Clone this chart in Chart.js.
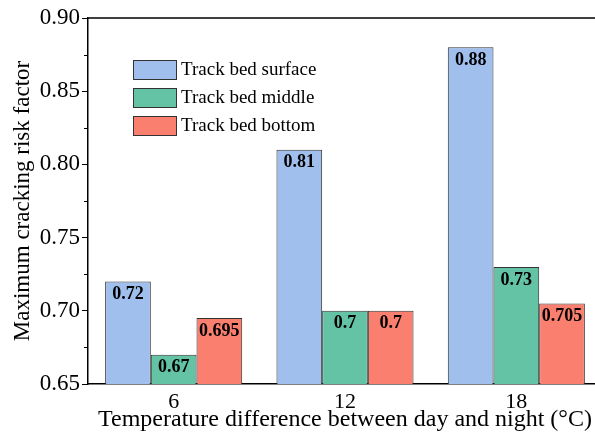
<!DOCTYPE html>
<html>
<head>
<meta charset="utf-8">
<script src="https://cdn.jsdelivr.net/npm/chart.js@4"></script>
<style>
  body { margin: 0; overflow: hidden; background: #fff; }
  #wrap { width: 605px; height: 435px; }
</style>
</head>
<body>
<div id="wrap"><canvas id="chart" width="605" height="435"></canvas></div>
<script>
const categories = ['6', '12', '18'];
const seriesNames = ['Track bed surface', 'Track bed middle', 'Track bed bottom'];
const surface = [0.72, 0.81, 0.88];
const middle = [0.67, 0.70, 0.73];
const bottom = [0.695, 0.70, 0.705];
const colors = ['#a0bfed', '#64c3a4', '#fb7f6f'];
const yMin = 0.65, yMax = 0.90, yStep = 0.05;

const serif = '"Liberation Serif", "DejaVu Serif", serif';

// value labels inside the top of each bar
const valueLabels = {
    id: 'valueLabels',
    afterDatasetsDraw(chart) {
        const ctx = chart.ctx;
        ctx.save();
        ctx.font = 'bold 18px ' + serif;
        ctx.fillStyle = '#000';
        ctx.textAlign = 'center';
        ctx.textBaseline = 'top';
        chart.data.datasets.forEach((ds, i) => {
            chart.getDatasetMeta(i).data.forEach((bar, j) => {
                ctx.fillText(String(ds.data[j]), bar.x, bar.y + 4);
            });
        });
        ctx.restore();
    }
};

// frame top line, minor y ticks, legend inside plot
const extras = {
    id: 'extras',
    afterDraw(chart) {
        const ctx = chart.ctx;
        const area = chart.chartArea;
        const y = chart.scales.y;
        ctx.save();
        ctx.strokeStyle = '#000';
        ctx.lineWidth = 1.5;
        ctx.beginPath();
        ctx.moveTo(area.left, area.top);
        ctx.lineTo(area.right, area.top);
        ctx.lineTo(area.right, area.bottom);
        ctx.stroke();

        ctx.lineWidth = 1;
        for (let v = yMin + yStep / 2; v < yMax; v += yStep) {
            const py = Math.round(y.getPixelForValue(v)) + 0.5;
            ctx.beginPath();
            ctx.moveTo(area.left - 4, py);
            ctx.lineTo(area.left, py);
            ctx.stroke();
        }

        ctx.font = '19px ' + serif;
        ctx.textBaseline = 'middle';
        ctx.textAlign = 'left';
        chart.data.datasets.forEach((ds, i) => {
            const top = 60 + i * 28;
            ctx.fillStyle = ds.backgroundColor;
            ctx.fillRect(133.5, top + 0.5, 43, 19);
            ctx.strokeStyle = '#333';
            ctx.strokeRect(133.5, top + 0.5, 43, 19);
            ctx.fillStyle = '#000';
            ctx.fillText(ds.label, 181, top + 10);
        });
        ctx.restore();
    }
};

const datasets = [surface, middle, bottom].map((vals, i) => ({
    label: seriesNames[i],
    data: vals,
    backgroundColor: colors[i],
    borderColor: '#333',
    borderWidth: 1,
    borderSkipped: false,
    categoryPercentage: 0.8,
    barPercentage: 1.0
}));

new Chart(document.getElementById('chart'), {
    type: 'bar',
    data: { labels: categories, datasets: datasets },
    options: {
        responsive: false,
        animation: false,
        layout: { padding: { top: 18, right: 3, left: 0, bottom: 0 } },
        plugins: {
            legend: { display: false },
            tooltip: { enabled: false }
        },
        scales: {
            x: {
                grid: { display: false, drawTicks: false },
                border: { display: true, color: '#000', width: 1.5 },
                ticks: { color: '#000', font: { family: serif, size: 22 }, padding: 5 },
                title: {
                    display: true,
                    text: 'Temperature difference between day and night (°C)',
                    color: '#000',
                    font: { family: serif, size: 24 },
                    padding: { top: 0, bottom: 1 }
                },
                afterFit(scale) { scale.height = 51; }
            },
            y: {
                min: yMin,
                max: yMax,
                ticks: {
                    stepSize: yStep,
                    color: '#000',
                    font: { family: serif, size: 23 },
                    padding: 2,
                    callback: v => Number(v).toFixed(2)
                },
                grid: { drawOnChartArea: false, drawTicks: true, tickLength: 6, color: '#000' },
                border: { display: true, color: '#000', width: 1.5 },
                title: {
                    display: true,
                    text: 'Maximum cracking risk factor',
                    color: '#000',
                    font: { family: serif, size: 23 },
                    padding: { top: 9, bottom: 0 }
                },
                afterFit(scale) { scale.width = 88; }
            }
        }
    },
    plugins: [valueLabels, extras]
});
</script>
</body>
</html>
